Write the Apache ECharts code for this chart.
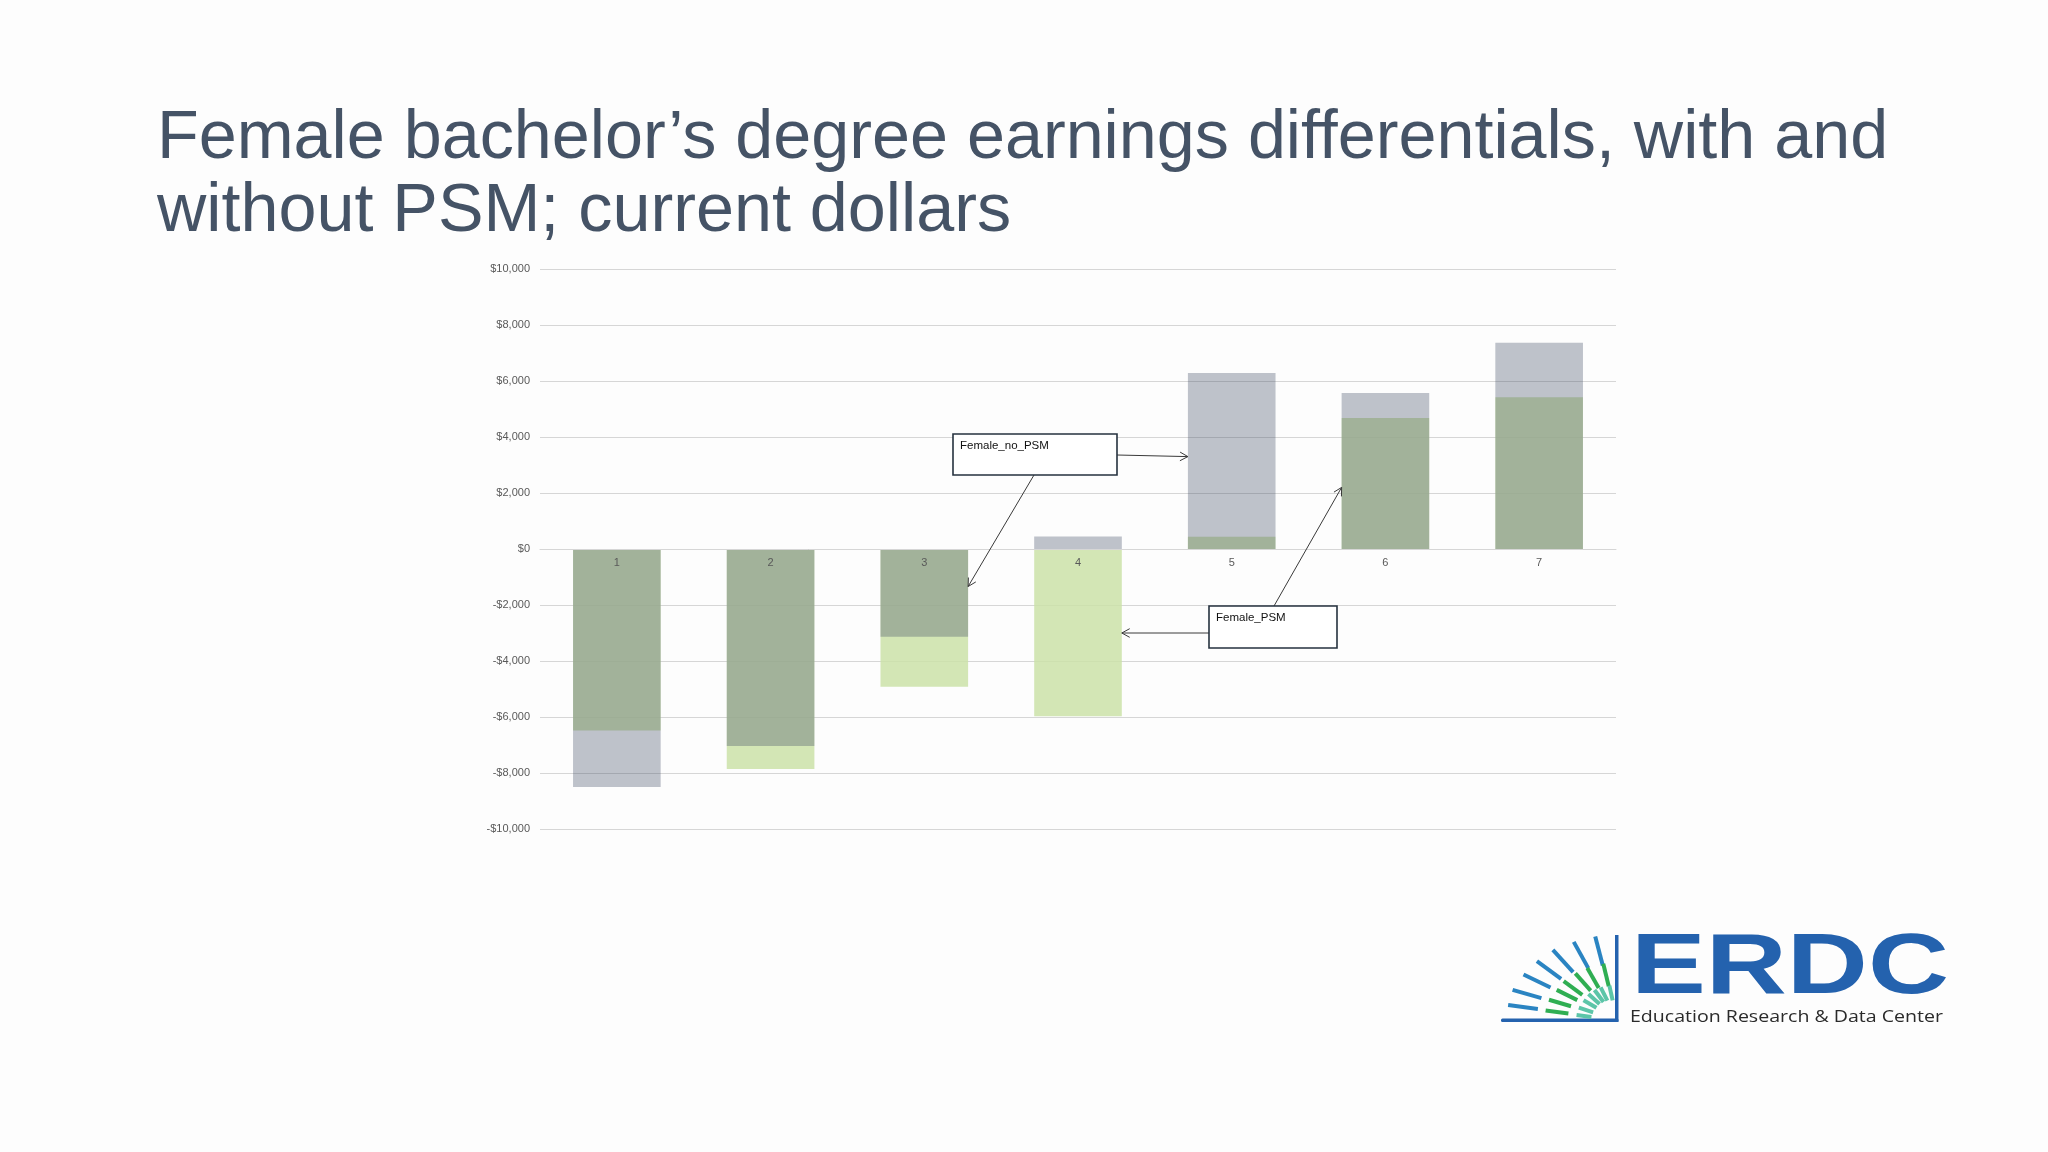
<!DOCTYPE html>
<html>
<head>
<meta charset="utf-8">
<script src="https://cdn.jsdelivr.net/npm/echarts@6/dist/echarts.min.js"></script>
<style>
html,body{margin:0;padding:0;background:#fdfdfd;}
#c{width:2048px;height:1152px;}
</style>
</head>
<body>
<div id="c"></div>
<script>
// ---- data ----
const categories = ['1', '2', '3', '4', '5', '6', '7'];
const femaleNoPSM = [-8500, -7040, -3130, 450, 6290, 5570, 7370];
const femalePSM   = [-6480, -7860, -4920, -5970, 440, 4680, 5420];
const yMin = -10000, yMax = 10000, yStep = 2000;
const titleLines = ['Female bachelor\u2019s degree earnings differentials, with and', 'without PSM; current dollars'];
const seriesNames = ['Female_no_PSM', 'Female_PSM'];

const chart = echarts.init(document.getElementById('c'), null, {renderer: 'canvas'});
const fmt = v => (v < 0 ? '-' : '') + '$' + Math.abs(v).toLocaleString('en-US');
const GRID = {left: 540, top: 269, width: 1076, height: 560};

const xAxisOpt = (offset) => ({
  type: 'category', data: categories, z: 10, position: 'bottom', offset: offset,
  axisLine: {show: true, onZero: false, lineStyle: {color: '#d6d6d6', width: 1}},
  axisTick: {show: false},
  axisLabel: {color: '#595959', fontSize: 11, fontFamily: 'Liberation Sans', margin: 8}
});

chart.setOption({
  backgroundColor: '#fdfdfd',
  animation: false,
  grid: Object.assign({containLabel: false}, GRID),
  xAxis: xAxisOpt(0),
  yAxis: {
    type: 'value', min: yMin, max: yMax, interval: yStep,
    axisLine: {show: false}, axisTick: {show: false},
    splitLine: {lineStyle: {color: '#d6d6d6', width: 1}},
    axisLabel: {color: '#595959', fontSize: 11, fontFamily: 'Liberation Sans', margin: 10, formatter: fmt}
  },
  series: [
    {name: seriesNames[1], type: 'bar', data: femalePSM, barWidth: '57%', barGap: '-100%', z: 2,
     itemStyle: {color: 'rgba(203,226,168,0.85)'}},
    {name: seriesNames[0], type: 'bar', data: femaleNoPSM, barWidth: '57%', barGap: '-100%', z: 3,
     itemStyle: {color: 'rgba(67,79,102,0.34)'}}
  ]
});

// ---- place category axis on the zero line ----
const P = (i, v) => chart.convertToPixel({xAxisIndex: 0, yAxisIndex: 0}, [i, v]);
const zeroY = P(0, 0)[1];
chart.setOption({xAxis: xAxisOpt(-(GRID.top + GRID.height - zeroY))});

// ---- annotations anchored to the bars ----
const band = P(1, 0)[0] - P(0, 0)[0];
const halfBar = band * 0.57 / 2;
const leftEdge = (i, v) => { const p = P(i, v); return [p[0] - halfBar, p[1]]; };
const rightEdge = (i, v) => { const p = P(i, v); return [p[0] + halfBar, p[1]]; };

const g = [];
function arrow(from, to) {
  g.push({type: 'line', z: 20, shape: {x1: from[0], y1: from[1], x2: to[0], y2: to[1]},
          style: {stroke: '#3a3a3a', lineWidth: 1}});
  const a = Math.atan2(to[1] - from[1], to[0] - from[0]);
  const L = 9, w = 0.5;
  g.push({type: 'polyline', z: 20, shape: {points: [
      [to[0] - L * Math.cos(a - w), to[1] - L * Math.sin(a - w)], to,
      [to[0] - L * Math.cos(a + w), to[1] - L * Math.sin(a + w)]]},
    style: {stroke: '#3a3a3a', lineWidth: 1, fill: null}});
}
function box(x, y, w, h, text) {
  g.push({type: 'rect', z: 21, shape: {x: x, y: y, width: w, height: h},
          style: {fill: '#ffffff', stroke: '#26323f', lineWidth: 1.6}});
  g.push({type: 'text', z: 22, x: x + 7, y: y + 12,
          style: {text: text, fill: '#111', font: '11.5px "Liberation Sans"', verticalAlign: 'middle'}});
}
// Female_no_PSM box
arrow([1117, 455], leftEdge(4, 3300));
arrow([1034, 475], rightEdge(2, -1340));
box(953, 434, 164, 41, seriesNames[0]);
// Female_PSM box
arrow([1209, 633], rightEdge(3, -3000));
arrow([1274, 606], leftEdge(5, 2200));
box(1209, 606, 128, 42, seriesNames[1]);

// ---- title ----
g.push({type: 'text', x: 157, y: 105, z: 30,
        style: {text: titleLines[0], fill: '#455366', font: '68.3px "Liberation Sans"', verticalAlign: 'top'}});
g.push({type: 'text', x: 157, y: 178, z: 30,
        style: {text: titleLines[1], fill: '#455366', font: '68.3px "Liberation Sans"', verticalAlign: 'top'}});

// ---- logo ----
const cx = 1617, cy = 1020;
const blue = '#2462ae';
g.push({type: 'rect', z: 30, shape: {x: 1615, y: 935, width: 3.5, height: 87}, style: {fill: blue}});
g.push({type: 'rect', z: 30, shape: {x: 1501, y: 1018.5, width: 117.5, height: 3.5, r: 1.5}, style: {fill: blue}});
const rings = [
  {c: '#2a84c2', L: 30, pts: [[-94,-13],[-90,-26],[-80,-39],[-68,-50],[-54,-59],[-36,-65],[-18,-69]]},
  {c: '#2fae52', L: 23, pts: [[-60,-8],[-57,-17],[-50,-25],[-44,-32],[-34,-38],[-24,-42],[-11,-45]]},
  {c: '#5cc5a8', L: 15, pts: [[-33,-4],[-31,-10],[-27,-16],[-23,-21],[-18,-24],[-13,-26],[-6,-27]]}
];
rings.forEach(r => r.pts.forEach(p => {
  const d = Math.hypot(p[0], p[1]), ux = p[0] / d, uy = p[1] / d;
  g.push({type: 'line', z: 30, shape: {x1: cx + p[0] - ux * r.L / 2, y1: cy + p[1] - uy * r.L / 2,
                                      x2: cx + p[0] + ux * r.L / 2, y2: cy + p[1] + uy * r.L / 2},
          style: {stroke: r.c, lineWidth: 4, lineCap: 'butt'}});
}));
g.push({type: 'text', z: 30, x: 1631, y: 927, scaleX: 1.32,
        style: {text: 'ERDC', fill: blue, font: 'bold 85px "Liberation Sans"', verticalAlign: 'top'}});
// fit subtitle width
const sub = 'Education Research & Data Center';
const cv = document.createElement('canvas').getContext('2d');
cv.font = '16px "Open Sans"';
const sw = cv.measureText(sub).width;
g.push({type: 'text', z: 30, x: 1630, y: 1009, scaleX: 313 / sw,
        style: {text: sub, fill: '#2a2a2a', font: '16px "Open Sans"', verticalAlign: 'top'}});

chart.setOption({graphic: g});
</script>
</body>
</html>
